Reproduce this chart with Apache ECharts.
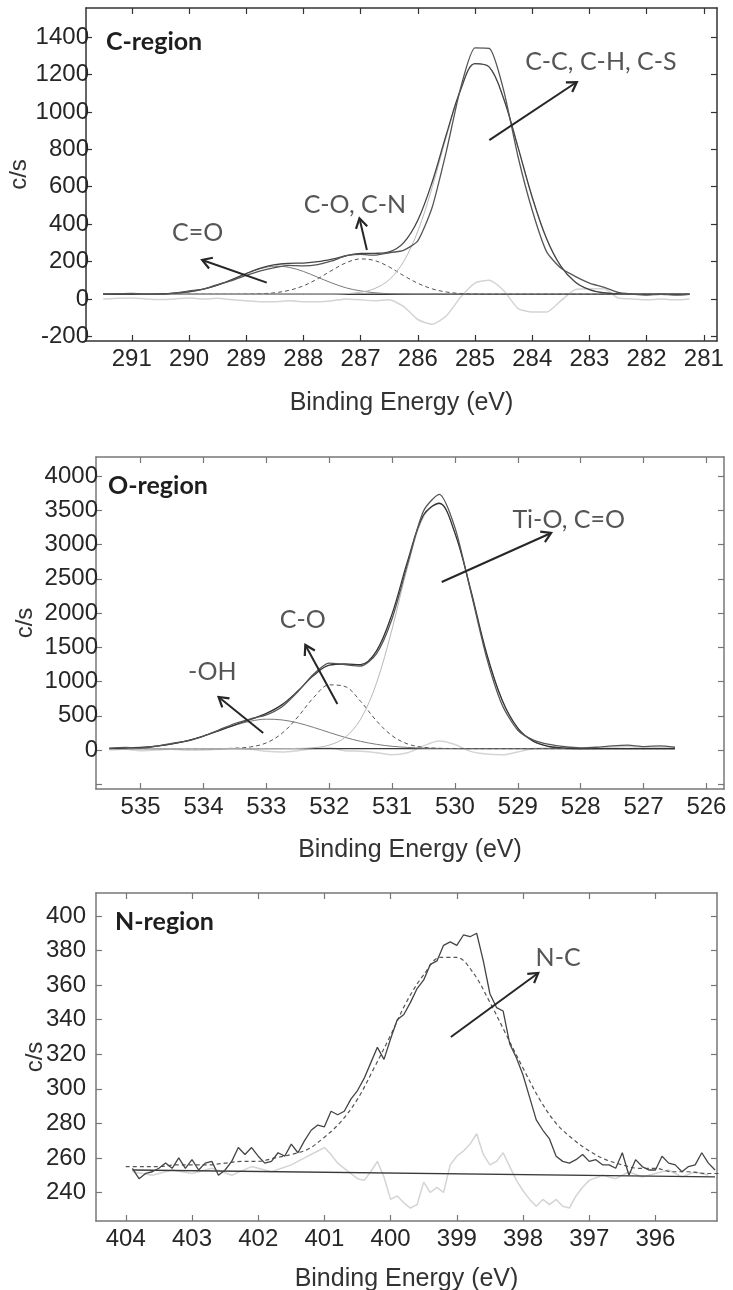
<!DOCTYPE html>
<html>
<head>
<meta charset="utf-8">
<script src="https://cdn.jsdelivr.net/npm/echarts@6/dist/echarts.min.js"></script>
<style>
  html, body { margin: 0; padding: 0; background: #fff; }
  #chart { width: 733px; height: 1290px; }
</style>
</head>
<body>
<div id="chart"></div>
<script>
// ---- C-region (C 1s) ----
const cEnergy = [291.5, 291.25, 291, 290.75, 290.5, 290.25, 290, 289.75, 289.5, 289.25,
  289, 288.75, 288.5, 288.25, 288, 287.75, 287.5, 287.25, 287, 286.75,
  286.5, 286.25, 286, 285.75, 285.5, 285.25, 285, 284.75, 284.5, 284.25,
  284, 283.75, 283.5, 283.25, 283, 282.75, 282.5, 282.25, 282, 281.75, 281.5, 281.25];
const cRaw = [25, 28, 30, 26, 24, 31, 43, 52, 77, 98,
  126, 150, 168, 180, 177, 184, 203, 231, 238, 234,
  247, 260, 311, 489, 791, 1130, 1343, 1340, 1117, 763,
  474, 253, 165, 121, 85, 63, 35, 26, 20, 25, 20, 25];
const cFit = [25, 25, 25, 26, 27, 31, 38, 52, 74, 103,
  136, 165, 183, 190, 192, 199, 213, 231, 243, 244,
  252, 300, 421, 624, 881, 1120, 1258, 1240, 1072, 813,
  544, 323, 175, 91, 50, 33, 28, 26, 25, 25, 25, 25];
const cPeakCC = [25, 25, 25, 25, 25, 25, 25, 25, 25, 25,
  25, 25, 25, 25, 25, 25, 25, 28, 36, 56,
  103, 199, 362, 595, 869, 1116, 1257, 1240, 1072, 813,
  544, 323, 175, 91, 50, 33, 28, 26, 25, 25, 25, 25];
const cPeakCO = [25, 25, 25, 25, 25, 25, 25, 25, 25, 25,
  26, 28, 33, 46, 70, 108, 153, 194, 214, 205,
  171, 125, 84, 54, 37, 29, 26, 25, 25, 25,
  25, 25, 25, 25, 25, 25, 25, 25, 25, 25, 25, 25];
const cPeakCdO = [25, 25, 25, 26, 27, 31, 38, 52, 74, 103,
  135, 162, 175, 169, 147, 116, 85, 59, 43, 33,
  28, 26, 25, 25, 25, 25, 25, 25, 25, 25,
  25, 25, 25, 25, 25, 25, 25, 25, 25, 25, 25, 25];
const cResid = [0, 3, 5, 0, -3, 0, 5, 0, 3, -5,
  -10, -15, -15, -10, -15, -15, -10, 0, -5, -10,
  -5, -40, -110, -135, -90, 10, 85, 100, 45, -50,
  -70, -70, -10, 50, 55, 55, 5, 0, -5, 0, -5, 0];
const cBaseline = [[291.5, 25], [281.25, 25]];
const cXTicks = [281, 282, 283, 284, 285, 286, 287, 288, 289, 290, 291];
const cYTicks = [-200, 0, 200, 400, 600, 800, 1000, 1200, 1400];
const cLabels = [['C-C, C-H, C-S', 282.8, 1267], ['C-O, C-N', 287.1, 502], ['C=O', 289.85, 352]];
const cArrows = [[284.75, 849, 283.22, 1160], [286.89, 262, 287.02, 431], [288.64, 87, 289.77, 208]];

// ---- O-region (O 1s) ----
const oEnergy = [535.5, 535.25, 535, 534.75, 534.5, 534.25, 534, 533.75, 533.5, 533.25,
  533, 532.75, 532.5, 532.25, 532, 531.75, 531.5, 531.25, 531, 530.75,
  530.5, 530.25, 530, 529.75, 529.5, 529.25, 529, 528.75, 528.5, 528.25,
  528, 527.75, 527.5, 527.25, 527, 526.75, 526.5];
const oRaw = [23, 37, 27, 56, 98, 132, 204, 294, 387, 456,
  514, 633, 851, 1107, 1268, 1246, 1227, 1403, 1918, 2729,
  3492, 3734, 3248, 2321, 1361, 660, 289, 145, 81, 47,
  31, 40, 60, 70, 50, 60, 40];
const oFit = [23, 27, 37, 56, 88, 137, 204, 284, 367, 446,
  534, 663, 861, 1087, 1238, 1256, 1247, 1443, 1988, 2769,
  3432, 3604, 3168, 2341, 1421, 730, 319, 125, 51, 27,
  21, 20, 20, 20, 20, 20, 20];
const oPeakOH = [23, 27, 37, 56, 88, 137, 204, 283, 361, 421,
  450, 439, 396, 330, 256, 185, 126, 83, 54, 37,
  28, 23, 21, 20, 20, 20, 20, 20, 20, 20,
  20, 20, 20, 20, 20, 20, 20];
const oPeakCO = [20, 20, 20, 20, 20, 20, 20, 21, 26, 45,
  104, 244, 482, 764, 951, 928, 710, 428, 208, 87,
  39, 24, 21, 20, 20, 20, 20, 20, 20, 20,
  20, 20, 20, 20, 20, 20, 20];
const oPeakTiO = [20, 20, 20, 20, 20, 20, 20, 20, 20, 20,
  20, 20, 23, 33, 71, 183, 451, 972, 1766, 2685,
  3405, 3597, 3166, 2321, 1421, 730, 319, 125, 51, 27,
  21, 20, 20, 20, 20, 20, 20];
const oResid = [0, 10, -10, 0, 10, -5, 0, 10, 20, 10,
  -20, -30, -10, 20, 30, -10, -20, -40, -70, -40,
  60, 130, 80, -20, -60, -70, -30, 20, 30, 20,
  10, 20, 40, 50, 30, 40, 20];
const oBaseline = [[535.5, 20], [526.5, 20]];
const oXTicks = [526, 527, 528, 529, 530, 531, 532, 533, 534, 535];
const oYTicks = [-500, 0, 500, 1000, 1500, 2000, 2500, 3000, 3500, 4000];
const oYLabels = [0, 500, 1000, 1500, 2000, 2500, 3000, 3500, 4000];
const oLabels = [['Ti-O, C=O', 528.19, 3360], ['C-O', 532.42, 1900], ['-OH', 533.86, 1140]];
const oArrows = [[530.21, 2454, 528.47, 3170], [531.87, 672, 532.38, 1534], [533.05, 248, 533.76, 774]];

// ---- N-region (N 1s) ----
const nEnergy = [403.9, 403.8, 403.7, 403.6, 403.5, 403.4, 403.3, 403.2, 403.1, 403.0,
  402.9, 402.8, 402.7, 402.6, 402.5, 402.4, 402.3, 402.2, 402.1, 402.0,
  401.9, 401.8, 401.7, 401.6, 401.5, 401.4, 401.3, 401.2, 401.1, 401.0,
  400.9, 400.8, 400.7, 400.6, 400.5, 400.4, 400.3, 400.2, 400.1, 400.0,
  399.9, 399.8, 399.7, 399.6, 399.5, 399.4, 399.3, 399.2, 399.1, 399.0,
  398.9, 398.8, 398.7, 398.6, 398.5, 398.4, 398.3, 398.2, 398.1, 398.0,
  397.9, 397.8, 397.7, 397.6, 397.5, 397.4, 397.3, 397.2, 397.1, 397.0,
  396.9, 396.8, 396.7, 396.6, 396.5, 396.4, 396.3, 396.2, 396.1, 396.0,
  395.9, 395.8, 395.7, 395.6, 395.5, 395.4, 395.3, 395.2, 395.1];
const nRaw = [254, 248, 251, 252, 254, 257, 254, 260, 254, 259,
  253, 257, 258, 250, 253, 258, 266, 262, 266, 261,
  257, 258, 263, 261, 268, 263, 270, 276, 279, 278,
  287, 285, 287, 294, 299, 306, 315, 324, 317, 329,
  340, 343, 350, 358, 363, 372, 374, 383, 385, 383,
  389, 388, 390, 374, 355, 347, 345, 326, 318, 308,
  295, 282, 276, 271, 261, 258, 257, 259, 262, 258,
  259, 256, 256, 254, 263, 250, 259, 255, 253, 253,
  261, 257, 256, 252, 255, 256, 263, 257, 253];
const nFitEnergy = [404, 403.75, 403.5, 403.25, 403, 402.75, 402.5, 402.25, 402, 401.75,
  401.5, 401.25, 401, 400.75, 400.5, 400.25, 400, 399.75, 399.5, 399.25,
  399, 398.75, 398.5, 398.25, 398, 397.75, 397.5, 397.25, 397, 396.75,
  396.5, 396.25, 396, 395.75, 395.5, 395.25, 395];
const nFit = [255, 255, 255, 256, 256, 256, 257, 258, 258, 260,
  262, 265, 272, 281, 294, 312, 331, 351, 366, 376,
  376, 367, 350, 331, 312, 294, 280, 271, 264, 259,
  256, 254, 254, 252, 252, 251, 251];
const nResid = [[403.9, 252], [403.6, 250], [403.3, 253], [403.0, 251], [402.7, 254], [402.4, 250],
  [402.1, 255], [401.8, 252], [401.5, 256], [401.3, 260], [401.1, 264], [401.0, 266], [400.9, 262],
  [400.8, 257], [400.7, 254], [400.6, 251], [400.5, 248], [400.4, 247], [400.3, 252], [400.2, 258],
  [400.1, 249], [400.0, 236], [399.9, 238], [399.8, 234], [399.7, 231], [399.6, 233], [399.5, 246],
  [399.4, 240], [399.3, 243], [399.2, 240], [399.1, 256], [399.0, 261], [398.9, 264], [398.8, 268],
  [398.7, 274], [398.6, 262], [398.5, 256], [398.4, 258], [398.3, 263], [398.2, 255], [398.1, 247],
  [398.0, 241], [397.9, 236], [397.8, 232], [397.7, 236], [397.6, 233], [397.5, 236], [397.4, 232],
  [397.3, 231], [397.2, 238], [397.1, 243], [397.0, 247], [396.8, 250], [396.6, 248], [396.4, 252],
  [396.2, 249], [396.0, 251], [395.8, 253], [395.6, 249], [395.4, 252], [395.2, 250]];
const nBaseline = [[403.9, 253], [395.1, 249]];
const nXTicks = [396, 397, 398, 399, 400, 401, 402, 403, 404];
const nYTicks = [240, 260, 280, 300, 320, 340, 360, 380, 400];
const nLabels = [['N-C', 397.47, 376]];
const nArrows = [[399.09, 330, 397.77, 367]];

const FONT = '"Liberation Sans", Arial, sans-serif';
const NOTE_FONT = 'Lato, "Open Sans", sans-serif';
const INK = '#262626';

const zip = (xs, ys) => xs.map((x, i) => [x, ys[i]]);

const panels = [
  { name: 'C-region', grid: { left: 86, top: 8, width: 631, height: 333 }, frame: '#333',
    xMin: 280.77, xMax: 291.8, yMin: -225, yMax: 1556,
    xTicks: cXTicks, yTicks: cYTicks, yLabels: cYTicks, labelMargin: -3,
    yNameGap: 55, xNameGap: 50, titlePos: [106, 43] },
  { name: 'O-region', grid: { left: 96, top: 457, width: 628, height: 332 }, frame: '#777',
    xMin: 525.72, xMax: 535.71, yMin: -570, yMax: 4280,
    xTicks: oXTicks, yTicks: oYTicks, yLabels: oYLabels, labelMargin: -2,
    yNameGap: 59, xNameGap: 49, titlePos: [108, 487] },
  { name: 'N-region', grid: { left: 96, top: 893, width: 621, height: 328 }, frame: '#777',
    xMin: 395.07, xMax: 404.45, yMin: 223.5, yMax: 413.3,
    xTicks: nXTicks, yTicks: nYTicks, yLabels: nYTicks, labelMargin: 10,
    yNameGap: 49, xNameGap: 46, titlePos: [115, 923] }
];

const grids = [], xAxes = [], yAxes = [], graphics = [];
panels.forEach((p, i) => {
  grids.push(Object.assign({ containLabel: false, outerBoundsMode: 'none' }, p.grid));
  const line = { show: true, onZero: false, lineStyle: { color: p.frame, width: 1.5 } };
  const tick = (vals) => ({ show: true, inside: true, length: 6, customValues: vals,
    lineStyle: { color: p.frame, width: 1.2 } });
  const labelStyle = { fontFamily: FONT, fontSize: 24, color: '#262626', formatter: v => String(v) };
  xAxes.push({
    gridIndex: i, type: 'value', position: 'bottom', inverse: true,
    min: p.xMin, max: p.xMax, axisLine: line, axisTick: tick(p.xTicks), splitLine: { show: false },
    axisLabel: Object.assign({ customValues: p.xTicks, margin: 6 }, labelStyle),
    name: 'Binding Energy (eV)', nameLocation: 'middle', nameGap: p.xNameGap, nameMoveOverlap: false,
    nameTextStyle: { fontFamily: FONT, fontSize: 25, color: '#333' }
  });
  xAxes.push({
    gridIndex: i, type: 'value', position: 'top', inverse: true,
    min: p.xMin, max: p.xMax, axisLine: line, axisTick: tick(p.xTicks),
    axisLabel: { show: false }, splitLine: { show: false }
  });
  yAxes.push({
    gridIndex: i, type: 'value', position: 'left',
    min: p.yMin, max: p.yMax, axisLine: line, axisTick: tick(p.yTicks), splitLine: { show: false },
    axisLabel: Object.assign({ customValues: p.yLabels, margin: p.labelMargin, padding: [11, 0, 0, 0] }, labelStyle),
    name: 'c/s', nameLocation: 'middle', nameGap: p.yNameGap, nameMoveOverlap: false,
    nameTextStyle: { fontFamily: FONT, fontSize: 24, color: '#333' }
  });
  yAxes.push({
    gridIndex: i, type: 'value', position: 'right',
    min: p.yMin, max: p.yMax, axisLine: line, axisTick: tick(p.yTicks),
    axisLabel: { show: false }, splitLine: { show: false }
  });
  graphics.push({
    type: 'text', left: p.titlePos[0], top: p.titlePos[1] - 14,
    style: { text: p.name, font: 'bold 25px ' + NOTE_FONT, fill: '#1e1e1e' }
  });
});

function curve(panel, data, color, width, opts) {
  return Object.assign({
    type: 'line', xAxisIndex: panel * 2, yAxisIndex: panel * 2, data: data,
    showSymbol: false, symbol: 'none', silent: true, animation: false,
    lineStyle: { color: color, width: width }
  }, opts || {});
}

// peak labels + arrow shafts (heads are added after layout, see below)
function notes(panel, labels, arrows) {
  return {
    type: 'scatter', xAxisIndex: panel * 2, yAxisIndex: panel * 2, z: 10,
    symbolSize: 1, itemStyle: { color: 'rgba(0,0,0,0)' }, silent: true, animation: false,
    data: labels.map(l => [l[1], l[2], l[0]]),
    label: { show: true, position: 'inside', formatter: q => q.data[2],
      fontFamily: NOTE_FONT, fontSize: 25, color: '#2b2b2b' },
    markLine: {
      silent: true, animation: false, symbol: ['none', 'none'],
      label: { show: false }, itemStyle: { color: INK },
      lineStyle: { color: INK, width: 2, type: 'solid' },
      data: arrows.map(a => [{ coord: [a[0], a[1]] }, { coord: [a[2], a[3]] }])
    }
  };
}

const RESID = '#d4d4d4';
const series = [
  // C
  curve(0, zip(cEnergy, cResid), RESID, 1.5, { smooth: 0.2 }),
  curve(0, cBaseline, '#3a3a3a', 1.3),
  curve(0, zip(cEnergy, cPeakCdO), '#7a7a7a', 1, { smooth: 0.35 }),
  curve(0, zip(cEnergy, cPeakCO), '#555', 1, { smooth: 0.35, lineStyle: { color: '#555', width: 1, type: [4, 3] } }),
  curve(0, zip(cEnergy, cPeakCC), '#b8b8b8', 1, { smooth: 0.35 }),
  curve(0, zip(cEnergy, cFit), '#444', 1.3, { smooth: 0.35 }),
  curve(0, zip(cEnergy, cRaw), '#555', 1.3, { smooth: 0.2 }),
  notes(0, cLabels, cArrows),
  // O
  curve(1, zip(oEnergy, oResid), RESID, 1.5, { smooth: 0.3 }),
  curve(1, oBaseline, '#3a3a3a', 1.3),
  curve(1, zip(oEnergy, oPeakOH), '#7a7a7a', 1, { smooth: 0.35 }),
  curve(1, zip(oEnergy, oPeakCO), '#555', 1, { smooth: 0.35, lineStyle: { color: '#555', width: 1, type: [4, 3] } }),
  curve(1, zip(oEnergy, oPeakTiO), '#b8b8b8', 1, { smooth: 0.35 }),
  curve(1, zip(oEnergy, oFit), '#333', 1.3, { smooth: 0.35 }),
  curve(1, zip(oEnergy, oRaw), '#555', 1.3, { smooth: 0.25 }),
  notes(1, oLabels, oArrows),
  // N
  curve(2, nResid, RESID, 1.5),
  curve(2, nBaseline, '#3a3a3a', 1.3),
  curve(2, zip(nFitEnergy, nFit), '#555', 1, { smooth: 0.35, lineStyle: { color: '#555', width: 1.2, type: [4, 3] } }),
  curve(2, zip(nEnergy, nRaw), '#444', 1.3),
  notes(2, nLabels, nArrows)
];

const chart = echarts.init(document.getElementById('chart'));
chart.setOption({
  backgroundColor: '#fff',
  animation: false,
  grid: grids,
  xAxis: xAxes,
  yAxis: yAxes,
  graphic: graphics,
  series: series
});

// open "V" arrowheads, placed through the axes' own scales
const heads = [];
[cArrows, oArrows, nArrows].forEach((arrows, i) => {
  arrows.forEach(a => {
    const t = chart.convertToPixel({ gridIndex: i }, [a[0], a[1]]);
    const h = chart.convertToPixel({ gridIndex: i }, [a[2], a[3]]);
    const ang = Math.atan2(h[1] - t[1], h[0] - t[0]);
    const len = 11, spread = 0.55;
    const p1 = [h[0] - len * Math.cos(ang - spread), h[1] - len * Math.sin(ang - spread)];
    const p2 = [h[0] - len * Math.cos(ang + spread), h[1] - len * Math.sin(ang + spread)];
    heads.push({
      type: 'polyline', z: 100, silent: true,
      shape: { points: [p1, h, p2] },
      style: { stroke: INK, lineWidth: 2.2, fill: null, lineJoin: 'miter' }
    });
  });
});
chart.setOption({ graphic: graphics.concat(heads) });
</script>
</body>
</html>
